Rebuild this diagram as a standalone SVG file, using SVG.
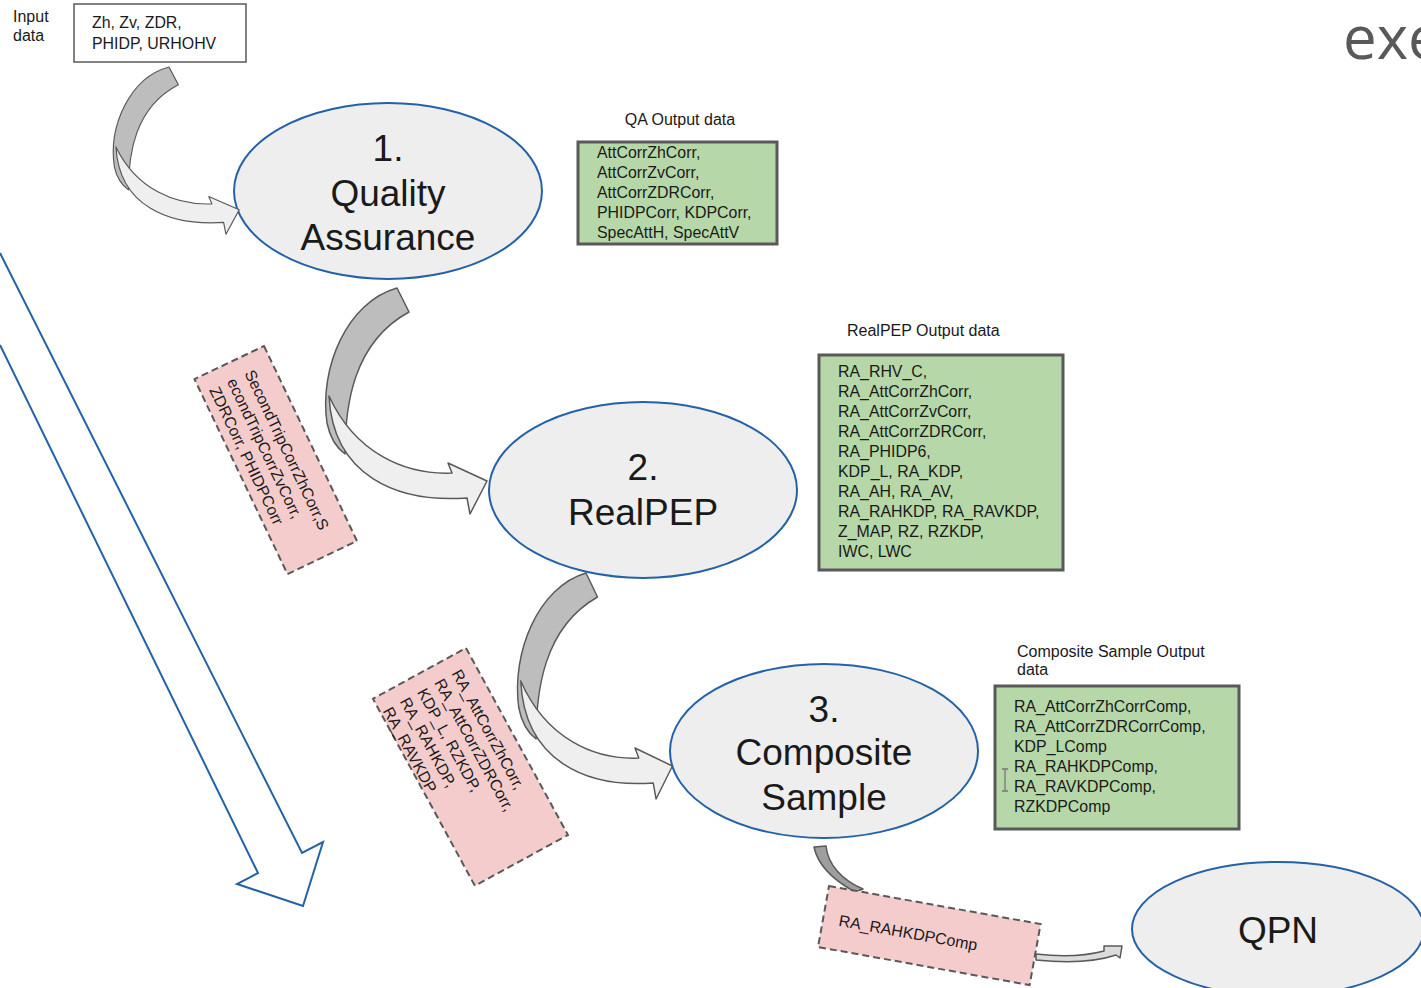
<svg xmlns="http://www.w3.org/2000/svg" width="1421" height="988" viewBox="0 0 1421 988">
<style>
text{font-family:"Liberation Sans",Arial,sans-serif;fill:#1a1a1a}
.big{font-size:37px;text-anchor:middle}
.sm{font-size:15.9px}
.lbl{font-size:16px}
.ell{fill:#eeeeee;stroke:#2462a8;stroke-width:2}
.green{fill:#b6d7a8;stroke:#595959;stroke-width:3}
.pink{fill:#f4cccc;stroke:#595959;stroke-width:2;stroke-dasharray:7 4}
.dark{fill:#bdbdbd;stroke:#595959;stroke-width:1.5;stroke-linejoin:round}
.light{fill:#efefef;stroke:#595959;stroke-width:1.5;stroke-linejoin:round}
</style>
<defs>
<g id="curved">
<path class="dark" d="M0 0 C-50 14 -78 80 -70 135 C-67 150 -60 160 -52 166 C-52 120 -45 55 12 24 Z"/>
<path class="light" d="M-68 108 C-64 188 0 215 70 210 L73 226 L90 193 L51 175 L55 185 C8 187 -42 165 -68 108 Z"/>
</g>
</defs>
<rect width="1421" height="988" fill="#ffffff"/>

<g id="input-label">
<text class="lbl" x="13" y="22">Input</text>
<text class="lbl" x="13" y="41">data</text>
</g>
<g id="input-box">
<rect x="74" y="4" width="172" height="58" fill="#ffffff" stroke="#595959" stroke-width="1.5"/>
<text class="sm" x="92" y="28">Zh, Zv, ZDR,</text>
<text class="sm" x="92" y="48.5">PHIDP, URHOHV</text>
</g>

<g id="qa">
<ellipse class="ell" cx="388" cy="191" rx="154" ry="88"/>
<text class="big" x="388" y="161">1.</text>
<text class="big" x="388" y="205.5">Quality</text>
<text class="big" x="388" y="250">Assurance</text>
</g>
<g id="realpep">
<ellipse class="ell" cx="643" cy="490" rx="154" ry="88"/>
<text class="big" x="643" y="480">2.</text>
<text class="big" x="643" y="525">RealPEP</text>
</g>
<g id="composite">
<ellipse class="ell" cx="824" cy="751" rx="154" ry="87"/>
<text class="big" x="824" y="722">3.</text>
<text class="big" x="824" y="765">Composite</text>
<text class="big" x="824" y="810">Sample</text>
</g>
<g id="qpn">
<ellipse class="ell" cx="1278" cy="929" rx="146" ry="67"/>
<text class="big" x="1278" y="943">QPN</text>
</g>

<g id="connectors">
<path d="M0 253 L302 853 L323 842 L303 906 L237 884 L258 873 L0 345" fill="none" stroke="#2462a8" stroke-width="2" stroke-linejoin="miter"/>
<use href="#curved" transform="translate(169,67) scale(0.78,0.74)"/>
<use href="#curved" transform="translate(397,288)"/>
<use href="#curved" transform="translate(586,573) scale(0.96,1)"/>
<path d="M814 847 L826 846 C828 865 842 880 863 889 L855 892 C835 881 818 866 814 847 Z" fill="#9e9e9e" stroke="#595959" stroke-width="1.5" stroke-linejoin="round"/>
<path d="M1036 954 C1060 957 1085 956 1104 951 L1104 946 L1122 946 L1120 958 L1116 955 C1095 962 1065 963 1036 960 Z" fill="#dcdcdc" stroke="#595959" stroke-width="1.5" stroke-linejoin="round"/>
</g>

<g id="qa-output">
<text class="lbl" x="680" y="124.5" text-anchor="middle">QA Output data</text>
<rect class="green" x="578" y="142" width="199" height="102"/>
<text class="sm" x="597" y="157.5">AttCorrZhCorr,</text>
<text class="sm" x="597" y="177.7">AttCorrZvCorr,</text>
<text class="sm" x="597" y="198">AttCorrZDRCorr,</text>
<text class="sm" x="597" y="218">PHIDPCorr, KDPCorr,</text>
<text class="sm" x="597" y="238">SpecAttH, SpecAttV</text>
</g>

<g id="realpep-output">
<text class="lbl" x="847" y="335.5">RealPEP Output data</text>
<rect class="green" x="819" y="355" width="244" height="215"/>
<text class="sm" x="838" y="377">RA_RHV_C,</text>
<text class="sm" x="838" y="397">RA_AttCorrZhCorr,</text>
<text class="sm" x="838" y="417">RA_AttCorrZvCorr,</text>
<text class="sm" x="838" y="437">RA_AttCorrZDRCorr,</text>
<text class="sm" x="838" y="457">RA_PHIDP6,</text>
<text class="sm" x="838" y="477">KDP_L, RA_KDP,</text>
<text class="sm" x="838" y="497">RA_AH, RA_AV,</text>
<text class="sm" x="838" y="517">RA_RAHKDP, RA_RAVKDP,</text>
<text class="sm" x="838" y="537">Z_MAP, RZ, RZKDP,</text>
<text class="sm" x="838" y="557">IWC, LWC</text>
</g>

<g id="composite-output">
<text class="lbl" x="1017" y="657">Composite Sample Output</text>
<text class="lbl" x="1017" y="675">data</text>
<rect class="green" x="995" y="686" width="244" height="143"/>
<text class="sm" x="1014" y="712">RA_AttCorrZhCorrComp,</text>
<text class="sm" x="1014" y="732">RA_AttCorrZDRCorrComp,</text>
<text class="sm" x="1014" y="752">KDP_LComp</text>
<text class="sm" x="1014" y="772">RA_RAHKDPComp,</text>
<text class="sm" x="1014" y="792">RA_RAVKDPComp,</text>
<text class="sm" x="1014" y="812">RZKDPComp</text>
<path d="M1002 769 H1008 M1005 769 V791 M1002 791 H1008" stroke="#777777" stroke-width="1.3" fill="none"/>
</g>

<g id="qa-realpep-data" transform="translate(264,346) rotate(64.5)">
<rect class="pink" x="0" y="0" width="216" height="77"/>
<text class="sm" x="16" y="29.5">SecondTripCorrZhCorr,S</text>
<text class="sm" x="16" y="49">econdTripCorrZvCorr,</text>
<text class="sm" x="16" y="68.5">ZDRCorr, PHIDPCorr</text>
</g>

<g id="realpep-composite-data" transform="translate(466,648) rotate(61.4)">
<rect class="pink" x="0" y="0" width="213" height="106"/>
<text class="sm" x="15" y="25">RA_AttCorrZhCorr,</text>
<text class="sm" x="15" y="44.6">RA_AttCorrZDRCorr,</text>
<text class="sm" x="15" y="64.2">KDP_L, RZKDP,</text>
<text class="sm" x="15" y="83.8">RA_RAHKDP,</text>
<text class="sm" x="15" y="103.4">RA_RAVKDP</text>
</g>

<g id="composite-qpn-data" transform="translate(829,886) rotate(10.2)">
<rect class="pink" x="0" y="0" width="215" height="62"/>
<text x="16" y="37.5" style="font-size:16px">RA_RAHKDPComp</text>
</g>

<text x="1343" y="59" style="font-family:'Open Sans','DejaVu Sans',sans-serif;font-size:60px;fill:#595959">exe</text>
</svg>
